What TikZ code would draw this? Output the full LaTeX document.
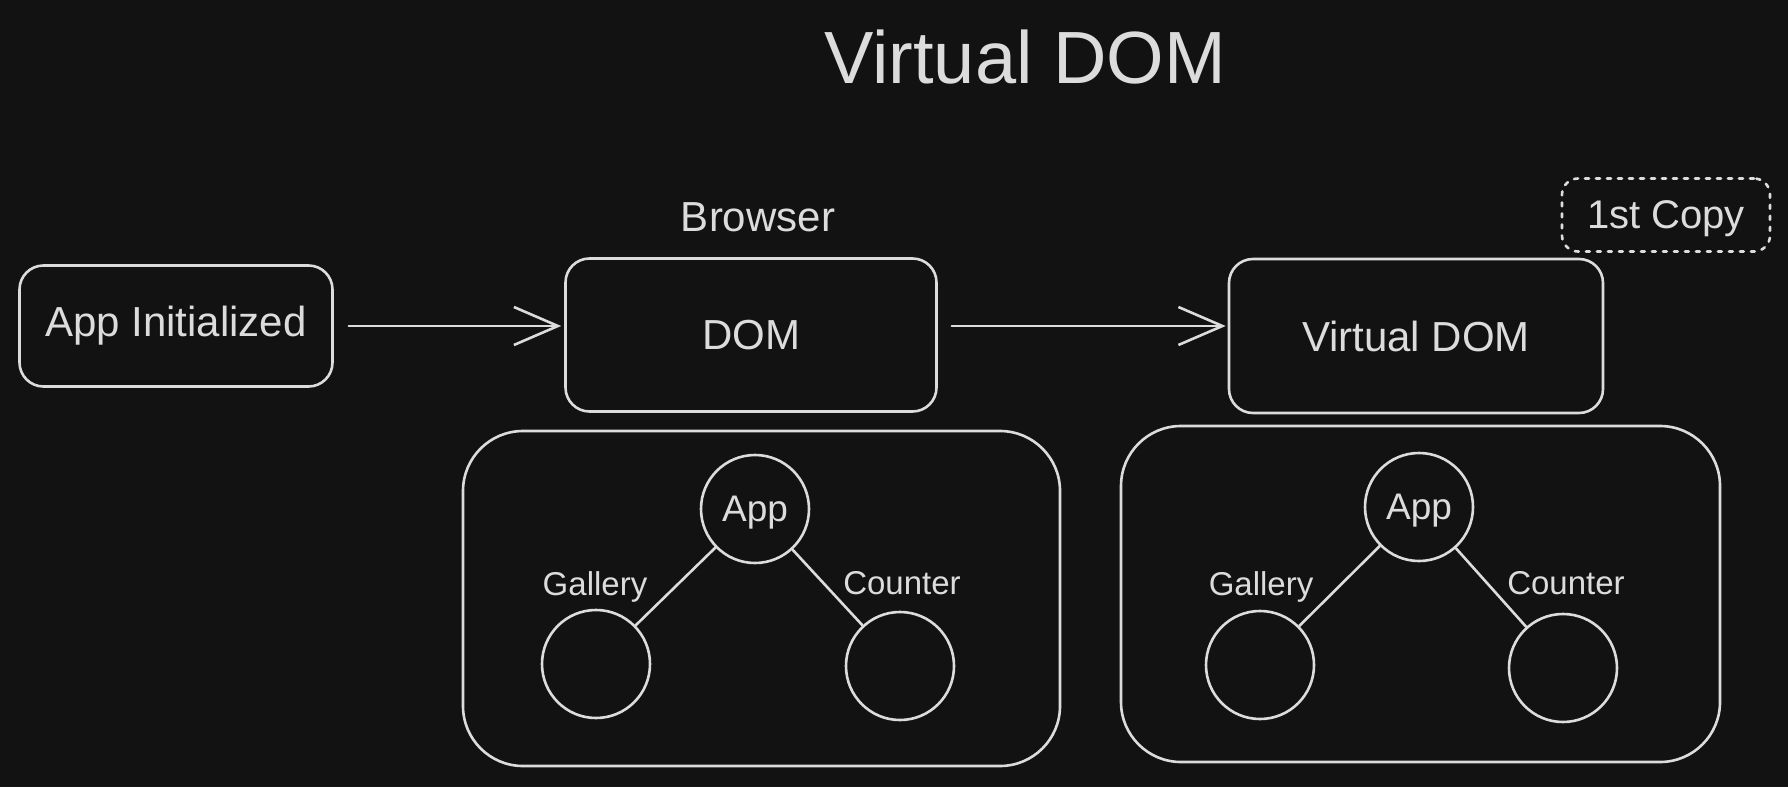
\documentclass[tikz,border=0pt]{standalone}
\usepackage{fontspec}
\setmainfont{Liberation Sans}
\usetikzlibrary{arrows.meta}
\definecolor{bg}{HTML}{121212}
\definecolor{ink}{HTML}{DCDCDC}
\begin{document}
\begin{tikzpicture}[x=1pt,y=-1pt,
  every node/.style={text=ink},
  box/.style={draw=ink, line width=2.6pt, rounded corners=24pt, inner sep=0pt, font=\fontsize{42}{50}\selectfont},
  copybox/.style={draw=ink, line width=2.6pt, rounded corners=16pt, inner sep=0pt, dash pattern=on 4pt off 7pt, line cap=round, font=\fontsize{40}{48}\selectfont},
  cont/.style={draw=ink, line width=2.6pt, rounded corners=60pt, inner sep=0pt},
  tnode/.style={draw=ink, line width=2.6pt, circle, minimum size=108pt, inner sep=0pt, font=\fontsize{37}{44}\selectfont},
  lab/.style={font=\fontsize{33}{40}\selectfont, inner sep=0pt},
  flow/.style={draw=ink, line width=2.6pt, line cap=round, -{Straight Barb[length=44pt,width=38pt]}},
  link/.style={draw=ink, line width=2.6pt, line cap=round},
]
\fill[bg] (0,0) rectangle (1788,787);
\useasboundingbox (0,0) rectangle (1788,787);

% title
\node[inner sep=0pt, anchor=base, font=\fontsize{74}{88}\selectfont] (title) at (1025,83) {Virtual DOM};

% top row
\node[box, minimum width=313pt, minimum height=121pt] (init) at (176,326) {App Initialized};
\node[box, minimum width=371pt, minimum height=153pt] (dom) at (751,335) {DOM};
\node[box, minimum width=374pt, minimum height=154pt] (vdom) at (1416,336) {Virtual DOM};
\node[inner sep=0pt, font=\fontsize{42}{50}\selectfont] (browser) at (758,217) {Browser};
\node[copybox, minimum width=208pt, minimum height=73pt, text depth=0pt] (copy) at (1666,215) {1st Copy};

\draw[flow, shorten <=15pt, shorten >=3pt] (init.east) -- (init.east -| dom.west);
\draw[flow, shorten <=14pt, shorten >=2pt] ([yshift=9pt]dom.east) -- ([yshift=9pt]dom.east -| vdom.west);

% containers
\node[cont, minimum width=597pt, minimum height=335pt] (contL) at (761.5,598.5) {};
\node[cont, minimum width=599pt, minimum height=336pt] (contR) at (1420.5,594) {};

% left tree
\node[tnode, text depth=0pt] (appL) at (755,509) {App};
\node[tnode] (galL) at (596,664) {};
\node[tnode] (cntL) at (900,666) {};
\node[lab] (galLabL) at (595,587) {Gallery};
\node[lab] (cntLabL) at (902,583) {Counter};
\draw[link] (appL) -- (galL);
\draw[link] (appL) -- (cntL);

% right tree
\node[tnode, text depth=0pt] (appR) at (1419,507) {App};
\node[tnode] (galR) at (1260,665) {};
\node[tnode] (cntR) at (1563,668) {};
\node[lab] (galLabR) at (1261,587) {Gallery};
\node[lab] (cntLabR) at (1566,583) {Counter};
\draw[link] (appR) -- (galR);
\draw[link] (appR) -- (cntR);
\end{tikzpicture}
\end{document}
